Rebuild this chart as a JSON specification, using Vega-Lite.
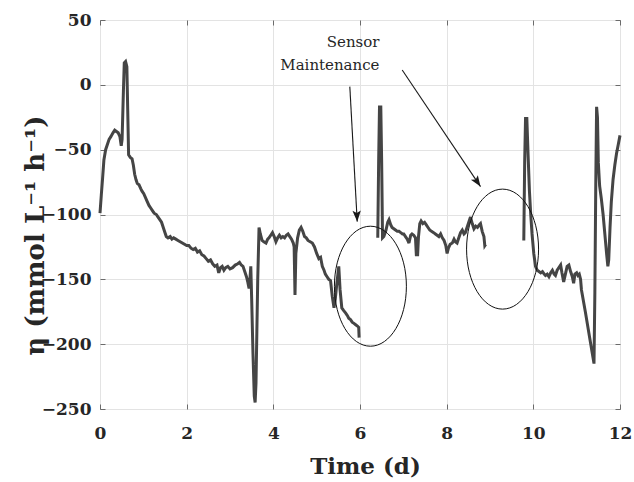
{
  "$schema": "https://vega.github.io/schema/vega-lite/v6.json",
  "autosize": {"type": "none"},
  "width": 520,
  "height": 389,
  "padding": {"left": 100, "top": 20, "right": 14, "bottom": 73},
  "background": "white",
  "config": {
    "view": {"stroke": "#6b6b6b", "strokeWidth": 1},
    "font": "DejaVu Serif"
  },
  "datasets": {
    "series": [
      {"t":0,"v":-99,"seg":1},{"t":0.03,"v":-85,"seg":1},{"t":0.06,"v":-72,"seg":1},{"t":0.09,"v":-58,"seg":1},{"t":0.13,"v":-50,"seg":1},{"t":0.17,"v":-46,"seg":1},{"t":0.21,"v":-42,"seg":1},{"t":0.25,"v":-40,"seg":1},{"t":0.3,"v":-37,"seg":1},{"t":0.34,"v":-35,"seg":1},{"t":0.38,"v":-36,"seg":1},{"t":0.42,"v":-37,"seg":1},{"t":0.46,"v":-40,"seg":1},{"t":0.49,"v":-47,"seg":1},{"t":0.51,"v":-42,"seg":1},{"t":0.54,"v":-5,"seg":1},{"t":0.56,"v":17,"seg":1},{"t":0.59,"v":18,"seg":1},{"t":0.62,"v":14,"seg":1},{"t":0.64,"v":-20,"seg":1},{"t":0.66,"v":-54,"seg":1},{"t":0.7,"v":-56,"seg":1},{"t":0.74,"v":-57,"seg":1},{"t":0.77,"v":-62,"seg":1},{"t":0.8,"v":-69,"seg":1},{"t":0.83,"v":-73,"seg":1},{"t":0.86,"v":-76,"seg":1},{"t":0.9,"v":-77,"seg":1},{"t":0.94,"v":-80,"seg":1},{"t":0.97,"v":-82,"seg":1},{"t":1.01,"v":-84,"seg":1},{"t":1.05,"v":-87,"seg":1},{"t":1.09,"v":-90,"seg":1},{"t":1.13,"v":-93,"seg":1},{"t":1.17,"v":-95,"seg":1},{"t":1.21,"v":-97,"seg":1},{"t":1.25,"v":-99,"seg":1},{"t":1.3,"v":-100,"seg":1},{"t":1.34,"v":-102,"seg":1},{"t":1.38,"v":-104,"seg":1},{"t":1.42,"v":-106,"seg":1},{"t":1.46,"v":-110,"seg":1},{"t":1.5,"v":-114,"seg":1},{"t":1.53,"v":-117,"seg":1},{"t":1.57,"v":-118,"seg":1},{"t":1.62,"v":-117,"seg":1},{"t":1.66,"v":-119,"seg":1},{"t":1.7,"v":-118,"seg":1},{"t":1.75,"v":-119,"seg":1},{"t":1.8,"v":-120,"seg":1},{"t":1.85,"v":-121,"seg":1},{"t":1.9,"v":-122,"seg":1},{"t":1.95,"v":-123,"seg":1},{"t":2.0,"v":-124,"seg":1},{"t":2.05,"v":-124,"seg":1},{"t":2.1,"v":-126,"seg":1},{"t":2.15,"v":-127,"seg":1},{"t":2.2,"v":-126,"seg":1},{"t":2.25,"v":-129,"seg":1},{"t":2.3,"v":-128,"seg":1},{"t":2.35,"v":-131,"seg":1},{"t":2.4,"v":-132,"seg":1},{"t":2.45,"v":-134,"seg":1},{"t":2.5,"v":-136,"seg":1},{"t":2.55,"v":-135,"seg":1},{"t":2.6,"v":-138,"seg":1},{"t":2.65,"v":-140,"seg":1},{"t":2.7,"v":-139,"seg":1},{"t":2.74,"v":-145,"seg":1},{"t":2.78,"v":-141,"seg":1},{"t":2.82,"v":-140,"seg":1},{"t":2.86,"v":-143,"seg":1},{"t":2.9,"v":-141,"seg":1},{"t":2.95,"v":-140,"seg":1},{"t":3.0,"v":-142,"seg":1},{"t":3.06,"v":-141,"seg":1},{"t":3.12,"v":-139,"seg":1},{"t":3.18,"v":-138,"seg":1},{"t":3.22,"v":-137,"seg":1},{"t":3.26,"v":-139,"seg":1},{"t":3.3,"v":-140,"seg":1},{"t":3.35,"v":-145,"seg":1},{"t":3.38,"v":-148,"seg":1},{"t":3.41,"v":-152,"seg":1},{"t":3.44,"v":-157,"seg":1},{"t":3.46,"v":-150,"seg":1},{"t":3.48,"v":-140,"seg":1},{"t":3.5,"v":-165,"seg":1},{"t":3.53,"v":-207,"seg":1},{"t":3.56,"v":-240,"seg":1},{"t":3.58,"v":-245,"seg":1},{"t":3.6,"v":-230,"seg":1},{"t":3.62,"v":-190,"seg":1},{"t":3.64,"v":-150,"seg":1},{"t":3.67,"v":-110,"seg":1},{"t":3.7,"v":-115,"seg":1},{"t":3.74,"v":-120,"seg":1},{"t":3.78,"v":-121,"seg":1},{"t":3.83,"v":-122,"seg":1},{"t":3.87,"v":-119,"seg":1},{"t":3.9,"v":-118,"seg":1},{"t":3.94,"v":-116,"seg":1},{"t":3.98,"v":-114,"seg":1},{"t":4.02,"v":-117,"seg":1},{"t":4.06,"v":-121,"seg":1},{"t":4.1,"v":-118,"seg":1},{"t":4.14,"v":-116,"seg":1},{"t":4.18,"v":-118,"seg":1},{"t":4.22,"v":-117,"seg":1},{"t":4.26,"v":-118,"seg":1},{"t":4.3,"v":-116,"seg":1},{"t":4.34,"v":-115,"seg":1},{"t":4.38,"v":-117,"seg":1},{"t":4.42,"v":-119,"seg":1},{"t":4.46,"v":-122,"seg":1},{"t":4.48,"v":-125,"seg":1},{"t":4.5,"v":-162,"seg":1},{"t":4.52,"v":-130,"seg":1},{"t":4.56,"v":-118,"seg":1},{"t":4.6,"v":-112,"seg":1},{"t":4.64,"v":-110,"seg":1},{"t":4.68,"v":-113,"seg":1},{"t":4.72,"v":-117,"seg":1},{"t":4.76,"v":-118,"seg":1},{"t":4.8,"v":-120,"seg":1},{"t":4.85,"v":-121,"seg":1},{"t":4.9,"v":-122,"seg":1},{"t":4.95,"v":-125,"seg":1},{"t":5.0,"v":-130,"seg":1},{"t":5.05,"v":-134,"seg":1},{"t":5.09,"v":-133,"seg":1},{"t":5.13,"v":-140,"seg":1},{"t":5.17,"v":-143,"seg":1},{"t":5.2,"v":-146,"seg":1},{"t":5.24,"v":-148,"seg":1},{"t":5.28,"v":-150,"seg":1},{"t":5.32,"v":-151,"seg":1},{"t":5.36,"v":-163,"seg":1},{"t":5.4,"v":-172,"seg":1},{"t":5.43,"v":-165,"seg":1},{"t":5.46,"v":-155,"seg":1},{"t":5.51,"v":-140,"seg":1},{"t":5.54,"v":-158,"seg":1},{"t":5.58,"v":-172,"seg":1},{"t":5.62,"v":-174,"seg":1},{"t":5.67,"v":-176,"seg":1},{"t":5.71,"v":-178,"seg":1},{"t":5.74,"v":-180,"seg":1},{"t":5.78,"v":-181,"seg":1},{"t":5.82,"v":-183,"seg":1},{"t":5.86,"v":-184,"seg":1},{"t":5.9,"v":-185,"seg":1},{"t":5.94,"v":-186,"seg":1},{"t":5.97,"v":-187,"seg":1},{"t":5.98,"v":-195,"seg":1},
      {"t":6.41,"v":-118,"seg":2},{"t":6.43,"v":-60,"seg":2},{"t":6.45,"v":-17,"seg":2},{"t":6.48,"v":-17,"seg":2},{"t":6.5,"v":-60,"seg":2},{"t":6.52,"v":-118,"seg":2},{"t":6.55,"v":-117,"seg":2},{"t":6.6,"v":-112,"seg":2},{"t":6.64,"v":-106,"seg":2},{"t":6.67,"v":-104,"seg":2},{"t":6.71,"v":-108,"seg":2},{"t":6.74,"v":-110,"seg":2},{"t":6.78,"v":-111,"seg":2},{"t":6.82,"v":-112,"seg":2},{"t":6.86,"v":-113,"seg":2},{"t":6.9,"v":-113,"seg":2},{"t":6.94,"v":-114,"seg":2},{"t":6.98,"v":-115,"seg":2},{"t":7.01,"v":-115,"seg":2},{"t":7.05,"v":-117,"seg":2},{"t":7.09,"v":-119,"seg":2},{"t":7.13,"v":-122,"seg":2},{"t":7.17,"v":-116,"seg":2},{"t":7.2,"v":-115,"seg":2},{"t":7.24,"v":-116,"seg":2},{"t":7.28,"v":-118,"seg":2},{"t":7.3,"v":-131,"seg":2},{"t":7.33,"v":-131,"seg":2},{"t":7.35,"v":-117,"seg":2},{"t":7.38,"v":-107,"seg":2},{"t":7.41,"v":-105,"seg":2},{"t":7.45,"v":-107,"seg":2},{"t":7.49,"v":-106,"seg":2},{"t":7.53,"v":-108,"seg":2},{"t":7.57,"v":-110,"seg":2},{"t":7.61,"v":-112,"seg":2},{"t":7.65,"v":-113,"seg":2},{"t":7.7,"v":-114,"seg":2},{"t":7.74,"v":-115,"seg":2},{"t":7.78,"v":-116,"seg":2},{"t":7.82,"v":-117,"seg":2},{"t":7.86,"v":-115,"seg":2},{"t":7.9,"v":-118,"seg":2},{"t":7.94,"v":-120,"seg":2},{"t":7.98,"v":-124,"seg":2},{"t":8.01,"v":-130,"seg":2},{"t":8.04,"v":-126,"seg":2},{"t":8.08,"v":-123,"seg":2},{"t":8.13,"v":-122,"seg":2},{"t":8.17,"v":-119,"seg":2},{"t":8.2,"v":-121,"seg":2},{"t":8.24,"v":-122,"seg":2},{"t":8.28,"v":-118,"seg":2},{"t":8.32,"v":-114,"seg":2},{"t":8.36,"v":-112,"seg":2},{"t":8.4,"v":-115,"seg":2},{"t":8.43,"v":-114,"seg":2},{"t":8.47,"v":-110,"seg":2},{"t":8.51,"v":-106,"seg":2},{"t":8.55,"v":-102,"seg":2},{"t":8.59,"v":-107,"seg":2},{"t":8.63,"v":-111,"seg":2},{"t":8.67,"v":-109,"seg":2},{"t":8.71,"v":-110,"seg":2},{"t":8.75,"v":-108,"seg":2},{"t":8.78,"v":-107,"seg":2},{"t":8.82,"v":-113,"seg":2},{"t":8.86,"v":-117,"seg":2},{"t":8.88,"v":-124,"seg":2},{"t":8.9,"v":-123,"seg":2},
      {"t":9.78,"v":-120,"seg":3},{"t":9.8,"v":-60,"seg":3},{"t":9.82,"v":-26,"seg":3},{"t":9.85,"v":-26,"seg":3},{"t":9.88,"v":-55,"seg":3},{"t":9.91,"v":-82,"seg":3},{"t":9.94,"v":-100,"seg":3},{"t":9.97,"v":-115,"seg":3},{"t":10.01,"v":-130,"seg":3},{"t":10.05,"v":-140,"seg":3},{"t":10.09,"v":-143,"seg":3},{"t":10.13,"v":-144,"seg":3},{"t":10.17,"v":-145,"seg":3},{"t":10.21,"v":-144,"seg":3},{"t":10.25,"v":-146,"seg":3},{"t":10.28,"v":-147,"seg":3},{"t":10.32,"v":-146,"seg":3},{"t":10.36,"v":-148,"seg":3},{"t":10.4,"v":-145,"seg":3},{"t":10.44,"v":-143,"seg":3},{"t":10.48,"v":-146,"seg":3},{"t":10.51,"v":-147,"seg":3},{"t":10.55,"v":-143,"seg":3},{"t":10.59,"v":-141,"seg":3},{"t":10.63,"v":-139,"seg":3},{"t":10.66,"v":-145,"seg":3},{"t":10.7,"v":-152,"seg":3},{"t":10.74,"v":-146,"seg":3},{"t":10.78,"v":-140,"seg":3},{"t":10.82,"v":-139,"seg":3},{"t":10.86,"v":-144,"seg":3},{"t":10.9,"v":-148,"seg":3},{"t":10.93,"v":-153,"seg":3},{"t":10.96,"v":-146,"seg":3},{"t":11.0,"v":-145,"seg":3},{"t":11.03,"v":-147,"seg":3},{"t":11.06,"v":-146,"seg":3},{"t":11.09,"v":-150,"seg":3},{"t":11.11,"v":-158,"seg":3},{"t":11.2,"v":-175,"seg":3},{"t":11.3,"v":-195,"seg":3},{"t":11.4,"v":-215,"seg":3},{"t":11.42,"v":-160,"seg":3},{"t":11.44,"v":-80,"seg":3},{"t":11.46,"v":-17,"seg":3},{"t":11.48,"v":-25,"seg":3},{"t":11.5,"v":-60,"seg":3},{"t":11.53,"v":-78,"seg":3},{"t":11.57,"v":-88,"seg":3},{"t":11.61,"v":-100,"seg":3},{"t":11.65,"v":-115,"seg":3},{"t":11.69,"v":-130,"seg":3},{"t":11.72,"v":-140,"seg":3},{"t":11.74,"v":-135,"seg":3},{"t":11.77,"v":-110,"seg":3},{"t":11.8,"v":-90,"seg":3},{"t":11.84,"v":-73,"seg":3},{"t":11.88,"v":-62,"seg":3},{"t":11.92,"v":-53,"seg":3},{"t":11.96,"v":-46,"seg":3},{"t":12.0,"v":-39,"seg":3}
    ],
    "circles": [{"t": 6.24, "v": -155.3}, {"t": 9.29, "v": -126.7}],
    "arrows": [
      {"id": "a1", "t": 5.765, "v": -1.4, "t2": 5.936, "v2": -105.5},
      {"id": "a2", "t": 6.974, "v": 11.45, "t2": 8.781, "v2": -78.5}
    ],
    "notes": [
      {"t": 6.45, "v": 29.2, "text": "Sensor"},
      {"t": 6.45, "v": 11.4, "text": "Maintenance"}
    ]
  },
  "layer": [
    {
      "data": {"name": "series"},
      "mark": {"type": "line", "color": "#454545", "strokeWidth": 3, "strokeJoin": "miter", "strokeMiterLimit": 3},
      "encoding": {
        "x": {
          "field": "t", "type": "quantitative",
          "scale": {"domain": [0, 12], "nice": false, "zero": false},
          "axis": {
            "title": "Time (d)", "values": [0, 2, 4, 6, 8, 10, 12],
            "grid": true, "gridColor": "#e3e3e3", "gridWidth": 1,
            "domain": false, "tickColor": "#6b6b6b", "tickSize": -5,
            "labelFont": "DejaVu Serif", "labelFontWeight": "bold", "labelFontSize": 17, "labelColor": "#262626",
            "labelPadding": 21, "labelFlush": false,
            "titleFont": "DejaVu Serif", "titleFontWeight": "bold", "titleFontSize": 23, "titleColor": "#262626", "titlePadding": 14,
            "titleX": 265
          }
        },
        "y": {
          "field": "v", "type": "quantitative",
          "scale": {"domain": [-250, 50], "nice": false, "zero": false},
          "axis": {
            "title": "η (mmol L⁻¹ h⁻¹)", "values": [-250, -200, -150, -100, -50, 0, 50],
            "grid": true, "gridColor": "#e3e3e3", "gridWidth": 1,
            "domain": false, "tickColor": "#6b6b6b", "tickSize": -5,
            "labelFont": "DejaVu Serif", "labelFontWeight": "bold", "labelFontSize": 17, "labelColor": "#262626",
            "labelPadding": 14, "labelFlush": false,
            "titleFont": "DejaVu Serif", "titleFontWeight": "bold", "titleFontSize": 26, "titleColor": "#262626", "titlePadding": -7,
            "titleY": 215
          }
        },
        "detail": {"field": "seg", "type": "nominal"}
      }
    },
    {
      "data": {"name": "circles"},
      "mark": {"type": "point", "shape": "M0,-1A0.6,1,0,1,1,0,1A0.6,1,0,1,1,0,-1Z", "size": 14400, "filled": false, "stroke": "#111111", "strokeWidth": 1, "opacity": 1},
      "encoding": {
        "x": {"field": "t", "type": "quantitative", "axis": {"orient": "top", "labels": false, "title": null, "grid": false, "domain": false, "tickColor": "#6b6b6b", "tickSize": -5, "values": [0, 2, 4, 6, 8, 10, 12]}},
        "y": {"field": "v", "type": "quantitative", "axis": {"orient": "right", "labels": false, "title": null, "grid": false, "domain": false, "tickColor": "#6b6b6b", "tickSize": -5, "values": [-250, -200, -150, -100, -50, 0, 50]}}
      }
    },
    {
      "data": {"name": "arrows"},
      "mark": {"type": "rule", "color": "#1a1a1a", "strokeWidth": 1.1},
      "encoding": {
        "x": {"field": "t", "type": "quantitative", "axis": null},
        "y": {"field": "v", "type": "quantitative", "axis": null},
        "x2": {"field": "t2"},
        "y2": {"field": "v2"}
      }
    },
    {
      "data": {"name": "arrows"},
      "transform": [{"filter": "datum.id === 'a1'"}],
      "mark": {"type": "point", "shape": "M0,0L-0.38,-1L0,-0.78L0.38,-1Z", "size": 484, "filled": true, "color": "#1a1a1a", "opacity": 1, "angle": 357},
      "encoding": {
        "x": {"field": "t2", "type": "quantitative", "axis": null},
        "y": {"field": "v2", "type": "quantitative", "axis": null}
      }
    },
    {
      "data": {"name": "arrows"},
      "transform": [{"filter": "datum.id === 'a2'"}],
      "mark": {"type": "point", "shape": "M0,0L-0.38,-1L0,-0.78L0.38,-1Z", "size": 484, "filled": true, "color": "#1a1a1a", "opacity": 1, "angle": 326},
      "encoding": {
        "x": {"field": "t2", "type": "quantitative", "axis": null},
        "y": {"field": "v2", "type": "quantitative", "axis": null}
      }
    },
    {
      "data": {"name": "notes"},
      "mark": {"type": "text", "align": "right", "baseline": "alphabetic", "font": "DejaVu Serif", "fontSize": 15, "color": "#262626"},
      "encoding": {
        "x": {"field": "t", "type": "quantitative", "axis": null},
        "y": {"field": "v", "type": "quantitative", "axis": null},
        "text": {"field": "text"}
      }
    }
  ],
  "resolve": {"axis": {"x": "independent", "y": "independent"}}
}
